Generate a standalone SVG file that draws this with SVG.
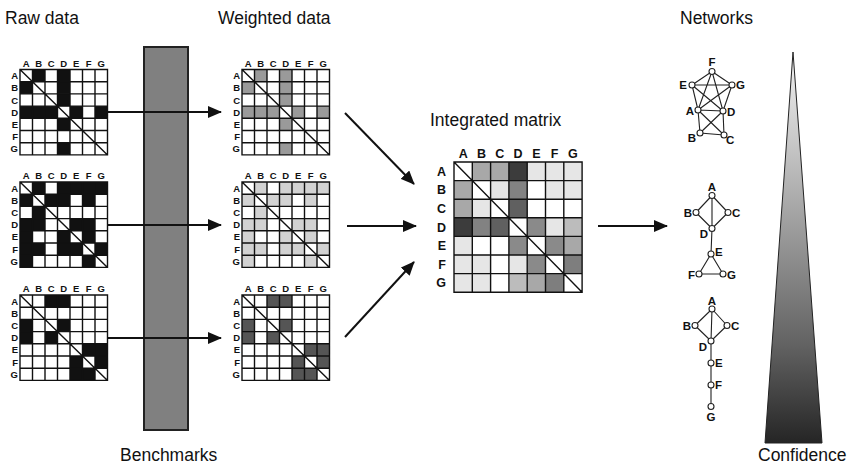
<svg xmlns="http://www.w3.org/2000/svg" xmlns:xlink="http://www.w3.org/1999/xlink" width="853" height="466" viewBox="0 0 853 466">
  <style>
    .title { font-family: "Liberation Sans", Arial, sans-serif; font-size: 17.5px; fill: #111; }
    .hdr { font-family: "Liberation Sans", Arial, sans-serif; font-size: 9.5px; font-weight: bold; fill: #111; }
    .hdr-big { font-family: "Liberation Sans", Arial, sans-serif; font-size: 12.5px; font-weight: bold; fill: #111; }
    .nlbl { font-family: "Liberation Sans", Arial, sans-serif; font-size: 11.5px; font-weight: bold; fill: #111; }
    .grid { fill: none; stroke: #111; stroke-width: 1.4; }
    .bg { fill: #fff; }
    .k { fill: #111; }
    .w1 { fill: #9a9a9a; }
    .w2 { fill: #d2d2d2; }
    .w3 { fill: #555; }
    .conn { stroke: #111; stroke-width: 2; fill: none; }
    .edge { stroke: #222; stroke-width: 1.1; fill: none; }
    .node { fill: #fff; stroke: #222; stroke-width: 1.1; }
  </style>
  <defs>
    <marker id="head" viewBox="0 0 14 12" refX="13" refY="6" markerWidth="14" markerHeight="12" markerUnits="userSpaceOnUse" orient="auto">
      <path d="M0,0 L14,6 L0,12 z" fill="#111"/>
    </marker>
    <linearGradient id="conf" x1="0" y1="0" x2="0" y2="1">
      <stop offset="0" stop-color="#f2f2f2"/>
      <stop offset="0.25" stop-color="#c4c4c4"/>
      <stop offset="0.5" stop-color="#939393"/>
      <stop offset="0.75" stop-color="#626262"/>
      <stop offset="1" stop-color="#252525"/>
    </linearGradient>
    <!-- 7x7 grid, small matrices: cell 12.5 x 12.2 -->
    <path id="grid7" class="grid" d="M0,0 H87.5 V85.4 H0 Z M12.5,0 V85.4 M25,0 V85.4 M37.5,0 V85.4 M50,0 V85.4 M62.5,0 V85.4 M75,0 V85.4 M0,12.2 H87.5 M0,24.4 H87.5 M0,36.6 H87.5 M0,48.8 H87.5 M0,61 H87.5 M0,73.2 H87.5 M0,0 L87.5,85.4"/>
    <g id="labels7">
      <text class="hdr" x="6.25" y="-3" text-anchor="middle">A</text>
      <text class="hdr" x="18.75" y="-3" text-anchor="middle">B</text>
      <text class="hdr" x="31.25" y="-3" text-anchor="middle">C</text>
      <text class="hdr" x="43.75" y="-3" text-anchor="middle">D</text>
      <text class="hdr" x="56.25" y="-3" text-anchor="middle">E</text>
      <text class="hdr" x="68.75" y="-3" text-anchor="middle">F</text>
      <text class="hdr" x="81.25" y="-3" text-anchor="middle">G</text>
      <text class="hdr" x="-2" y="9.6" text-anchor="end">A</text>
      <text class="hdr" x="-2" y="21.8" text-anchor="end">B</text>
      <text class="hdr" x="-2" y="34" text-anchor="end">C</text>
      <text class="hdr" x="-2" y="46.2" text-anchor="end">D</text>
      <text class="hdr" x="-2" y="58.4" text-anchor="end">E</text>
      <text class="hdr" x="-2" y="70.6" text-anchor="end">F</text>
      <text class="hdr" x="-2" y="82.8" text-anchor="end">G</text>
    </g>
    <!-- cell patterns (row, col) -> x = 12.5*col, y = 12.2*row -->
    <g id="pat1">
      <rect x="12.5" y="0" width="12.5" height="12.2"/><rect x="0" y="12.2" width="12.5" height="12.2"/>
      <rect x="37.5" y="0" width="12.5" height="12.2"/><rect x="0" y="36.6" width="12.5" height="12.2"/>
      <rect x="37.5" y="12.2" width="12.5" height="12.2"/><rect x="12.5" y="36.6" width="12.5" height="12.2"/>
      <rect x="37.5" y="24.4" width="12.5" height="12.2"/><rect x="25" y="36.6" width="12.5" height="12.2"/>
      <rect x="50" y="36.6" width="12.5" height="12.2"/><rect x="37.5" y="48.8" width="12.5" height="12.2"/>
      <rect x="75" y="36.6" width="12.5" height="12.2"/><rect x="37.5" y="73.2" width="12.5" height="12.2"/>
    </g>
    <g id="pat2">
      <rect x="12.5" y="0" width="12.5" height="12.2"/><rect x="0" y="12.2" width="12.5" height="12.2"/>
      <rect x="37.5" y="0" width="12.5" height="12.2"/><rect x="0" y="36.6" width="12.5" height="12.2"/>
      <rect x="50" y="0" width="12.5" height="12.2"/><rect x="0" y="48.8" width="12.5" height="12.2"/>
      <rect x="62.5" y="0" width="12.5" height="12.2"/><rect x="0" y="61" width="12.5" height="12.2"/>
      <rect x="75" y="0" width="12.5" height="12.2"/><rect x="0" y="73.2" width="12.5" height="12.2"/>
      <rect x="25" y="12.2" width="12.5" height="12.2"/><rect x="12.5" y="24.4" width="12.5" height="12.2"/>
      <rect x="37.5" y="12.2" width="12.5" height="12.2"/><rect x="12.5" y="36.6" width="12.5" height="12.2"/>
      <rect x="62.5" y="12.2" width="12.5" height="12.2"/><rect x="12.5" y="61" width="12.5" height="12.2"/>
      <rect x="50" y="36.6" width="12.5" height="12.2"/><rect x="37.5" y="48.8" width="12.5" height="12.2"/>
      <rect x="62.5" y="36.6" width="12.5" height="12.2"/><rect x="37.5" y="61" width="12.5" height="12.2"/>
      <rect x="62.5" y="48.8" width="12.5" height="12.2"/><rect x="50" y="61" width="12.5" height="12.2"/>
      <rect x="75" y="61" width="12.5" height="12.2"/><rect x="62.5" y="73.2" width="12.5" height="12.2"/>
    </g>
    <g id="pat3">
      <rect x="25" y="0" width="12.5" height="12.2"/><rect x="0" y="24.4" width="12.5" height="12.2"/>
      <rect x="37.5" y="0" width="12.5" height="12.2"/><rect x="0" y="36.6" width="12.5" height="12.2"/>
      <rect x="37.5" y="24.4" width="12.5" height="12.2"/><rect x="25" y="36.6" width="12.5" height="12.2"/>
      <rect x="62.5" y="48.8" width="12.5" height="12.2"/><rect x="50" y="61" width="12.5" height="12.2"/>
      <rect x="75" y="48.8" width="12.5" height="12.2"/><rect x="50" y="73.2" width="12.5" height="12.2"/>
      <rect x="75" y="61" width="12.5" height="12.2"/><rect x="62.5" y="73.2" width="12.5" height="12.2"/>
    </g>
  </defs>

  <rect width="853" height="466" fill="#fff"/>

  <!-- column titles -->
  <g id="titles">
    <text class="title" x="5" y="24">Raw data</text>
    <text class="title" x="218" y="24">Weighted data</text>
    <text class="title" x="430" y="126">Integrated matrix</text>
    <text class="title" x="680" y="24">Networks</text>
    <text class="title" x="120" y="461">Benchmarks</text>
    <text class="title" x="758" y="461">Confidence</text>
  </g>

  <!-- benchmark bar -->
  <g id="benchmarks">
    <rect x="144" y="47" width="44" height="383" fill="#808080" stroke="#222" stroke-width="2"/>
  </g>

  <!-- connectors (drawn over the benchmark bar) -->
  <g id="connectors">
    <line class="conn" x1="108" y1="112" x2="221" y2="112" marker-end="url(#head)"/>
    <line class="conn" x1="108" y1="225" x2="221" y2="225" marker-end="url(#head)"/>
    <line class="conn" x1="108" y1="338" x2="221" y2="338" marker-end="url(#head)"/>
    <line class="conn" x1="345" y1="113" x2="414" y2="184" marker-end="url(#head)"/>
    <line class="conn" x1="347" y1="226" x2="416" y2="226" marker-end="url(#head)"/>
    <line class="conn" x1="345" y1="337" x2="414" y2="262" marker-end="url(#head)"/>
    <line class="conn" x1="598" y1="226" x2="667" y2="226" marker-end="url(#head)"/>
  </g>

  <!-- raw data matrices -->
  <g id="raw-1" transform="translate(20,69.5)">
    <rect class="bg" width="87.5" height="85.4"/>
    <use xlink:href="#pat1" class="k"/>
    <use xlink:href="#grid7"/>
    <use xlink:href="#labels7"/>
  </g>
  <g id="raw-2" transform="translate(20,182)">
    <rect class="bg" width="87.5" height="85.4"/>
    <use xlink:href="#pat2" class="k"/>
    <use xlink:href="#grid7"/>
    <use xlink:href="#labels7"/>
  </g>
  <g id="raw-3" transform="translate(20,295)">
    <rect class="bg" width="87.5" height="85.4"/>
    <use xlink:href="#pat3" class="k"/>
    <use xlink:href="#grid7"/>
    <use xlink:href="#labels7"/>
  </g>

  <!-- weighted data matrices -->
  <g id="weighted-1" transform="translate(242,69.5)">
    <rect class="bg" width="87.5" height="85.4"/>
    <use xlink:href="#pat1" class="w1"/>
    <use xlink:href="#grid7"/>
    <use xlink:href="#labels7"/>
  </g>
  <g id="weighted-2" transform="translate(242,182)">
    <rect class="bg" width="87.5" height="85.4"/>
    <use xlink:href="#pat2" class="w2"/>
    <use xlink:href="#grid7"/>
    <use xlink:href="#labels7"/>
  </g>
  <g id="weighted-3" transform="translate(242,295)">
    <rect class="bg" width="87.5" height="85.4"/>
    <use xlink:href="#pat3" class="w3"/>
    <use xlink:href="#grid7"/>
    <use xlink:href="#labels7"/>
  </g>

  <!-- integrated matrix: cell 18.3 x 18.6 -->
  <g id="integrated" transform="translate(454,162)">
    <rect class="bg" width="128.1" height="130.2"/>
    <!-- row A -->
    <rect x="18.3" y="0" width="18.3" height="18.6" fill="#a8a8a8"/>
    <rect x="36.6" y="0" width="18.3" height="18.6" fill="#a8a8a8"/>
    <rect x="54.9" y="0" width="18.3" height="18.6" fill="#3c3c3c"/>
    <rect x="73.2" y="0" width="18.3" height="18.6" fill="#e6e6e6"/>
    <rect x="91.5" y="0" width="18.3" height="18.6" fill="#e6e6e6"/>
    <rect x="109.8" y="0" width="18.3" height="18.6" fill="#e6e6e6"/>
    <!-- row B -->
    <rect x="0" y="18.6" width="18.3" height="18.6" fill="#a8a8a8"/>
    <rect x="36.6" y="18.6" width="18.3" height="18.6" fill="#e6e6e6"/>
    <rect x="54.9" y="18.6" width="18.3" height="18.6" fill="#828282"/>
    <rect x="91.5" y="18.6" width="18.3" height="18.6" fill="#e6e6e6"/>
    <rect x="109.8" y="18.6" width="18.3" height="18.6" fill="#e6e6e6"/>
    <!-- row C -->
    <rect x="0" y="37.2" width="18.3" height="18.6" fill="#a8a8a8"/>
    <rect x="18.3" y="37.2" width="18.3" height="18.6" fill="#e6e6e6"/>
    <rect x="54.9" y="37.2" width="18.3" height="18.6" fill="#606060"/>
    <!-- row D -->
    <rect x="0" y="55.8" width="18.3" height="18.6" fill="#3c3c3c"/>
    <rect x="18.3" y="55.8" width="18.3" height="18.6" fill="#828282"/>
    <rect x="36.6" y="55.8" width="18.3" height="18.6" fill="#606060"/>
    <rect x="73.2" y="55.8" width="18.3" height="18.6" fill="#8a8a8a"/>
    <rect x="91.5" y="55.8" width="18.3" height="18.6" fill="#e6e6e6"/>
    <rect x="109.8" y="55.8" width="18.3" height="18.6" fill="#bcbcbc"/>
    <!-- row E -->
    <rect x="0" y="74.4" width="18.3" height="18.6" fill="#e6e6e6"/>
    <rect x="54.9" y="74.4" width="18.3" height="18.6" fill="#8a8a8a"/>
    <rect x="91.5" y="74.4" width="18.3" height="18.6" fill="#8a8a8a"/>
    <rect x="109.8" y="74.4" width="18.3" height="18.6" fill="#a8a8a8"/>
    <!-- row F -->
    <rect x="0" y="93" width="18.3" height="18.6" fill="#e6e6e6"/>
    <rect x="18.3" y="93" width="18.3" height="18.6" fill="#e6e6e6"/>
    <rect x="54.9" y="93" width="18.3" height="18.6" fill="#e6e6e6"/>
    <rect x="73.2" y="93" width="18.3" height="18.6" fill="#8a8a8a"/>
    <rect x="109.8" y="93" width="18.3" height="18.6" fill="#7e7e7e"/>
    <!-- row G -->
    <rect x="0" y="111.6" width="18.3" height="18.6" fill="#e6e6e6"/>
    <rect x="18.3" y="111.6" width="18.3" height="18.6" fill="#e6e6e6"/>
    <rect x="54.9" y="111.6" width="18.3" height="18.6" fill="#bcbcbc"/>
    <rect x="73.2" y="111.6" width="18.3" height="18.6" fill="#a8a8a8"/>
    <rect x="91.5" y="111.6" width="18.3" height="18.6" fill="#7e7e7e"/>
    <path class="grid" stroke-width="1.6" d="M0,0 H128.1 V130.2 H0 Z M18.3,0 V130.2 M36.6,0 V130.2 M54.9,0 V130.2 M73.2,0 V130.2 M91.5,0 V130.2 M109.8,0 V130.2 M0,18.6 H128.1 M0,37.2 H128.1 M0,55.8 H128.1 M0,74.4 H128.1 M0,93 H128.1 M0,111.6 H128.1 M0,0 L128.1,130.2"/>
    <text class="hdr-big" x="9.15" y="-4" text-anchor="middle">A</text>
    <text class="hdr-big" x="27.45" y="-4" text-anchor="middle">B</text>
    <text class="hdr-big" x="45.75" y="-4" text-anchor="middle">C</text>
    <text class="hdr-big" x="64.05" y="-4" text-anchor="middle">D</text>
    <text class="hdr-big" x="82.35" y="-4" text-anchor="middle">E</text>
    <text class="hdr-big" x="100.65" y="-4" text-anchor="middle">F</text>
    <text class="hdr-big" x="118.95" y="-4" text-anchor="middle">G</text>
    <text class="hdr-big" x="-8" y="13.8" text-anchor="end">A</text>
    <text class="hdr-big" x="-8" y="32.4" text-anchor="end">B</text>
    <text class="hdr-big" x="-8" y="51" text-anchor="end">C</text>
    <text class="hdr-big" x="-8" y="69.6" text-anchor="end">D</text>
    <text class="hdr-big" x="-8" y="88.2" text-anchor="end">E</text>
    <text class="hdr-big" x="-8" y="106.8" text-anchor="end">F</text>
    <text class="hdr-big" x="-8" y="125.4" text-anchor="end">G</text>
  </g>

  <!-- networks -->
  <g id="network-1">
    <path class="edge" d="M712,71.5 L692,85 M712,71.5 L732,85 M692,85 L732,85 M712,71.5 L698,110 M712,71.5 L723,111 M692,85 L723,111 M732,85 L698,110 M692,85 L698,110 M732,85 L723,111 M698,110 L723,111 M698,110 L700,133 M723,111 L724,135 M700,133 L724,135 M698,110 L724,135 M723,111 L700,133"/>
    <circle class="node" cx="712" cy="71.5" r="3"/>
    <circle class="node" cx="692" cy="85" r="3"/>
    <circle class="node" cx="732" cy="85" r="3"/>
    <circle class="node" cx="698" cy="110" r="3"/>
    <circle class="node" cx="723" cy="111" r="3"/>
    <circle class="node" cx="700" cy="133" r="3"/>
    <circle class="node" cx="724" cy="135" r="3"/>
    <text class="nlbl" x="712" y="66" text-anchor="middle">F</text>
    <text class="nlbl" x="687" y="89" text-anchor="end">E</text>
    <text class="nlbl" x="736" y="89">G</text>
    <text class="nlbl" x="694" y="115" text-anchor="end">A</text>
    <text class="nlbl" x="727" y="116">D</text>
    <text class="nlbl" x="696" y="142" text-anchor="end">B</text>
    <text class="nlbl" x="726" y="144">C</text>
  </g>
  <g id="network-2">
    <path class="edge" d="M712,195.5 L696,212.5 M712,195.5 L728,212.5 M696,212.5 L712,228.5 M728,212.5 L712,228.5 M712,195.5 L712,228.5 M712,228.5 L711,254 M711,254 L699,274 M711,254 L723,274 M699,274 L723,274"/>
    <circle class="node" cx="712" cy="195.5" r="3"/>
    <circle class="node" cx="696" cy="212.5" r="3"/>
    <circle class="node" cx="728" cy="212.5" r="3"/>
    <circle class="node" cx="712" cy="228.5" r="3"/>
    <circle class="node" cx="711" cy="254" r="3"/>
    <circle class="node" cx="699" cy="274" r="3"/>
    <circle class="node" cx="723" cy="274" r="3"/>
    <text class="nlbl" x="712" y="191" text-anchor="middle">A</text>
    <text class="nlbl" x="692" y="217" text-anchor="end">B</text>
    <text class="nlbl" x="732" y="217">C</text>
    <text class="nlbl" x="708" y="238" text-anchor="end">D</text>
    <text class="nlbl" x="715" y="256">E</text>
    <text class="nlbl" x="695" y="279" text-anchor="end">F</text>
    <text class="nlbl" x="727" y="279">G</text>
  </g>
  <g id="network-3">
    <path class="edge" d="M712,309 L695,325.5 M712,309 L727,325.5 M695,325.5 L711,341 M727,325.5 L711,341 M712,309 L711,341 M711,341 L711,406.5"/>
    <circle class="node" cx="712" cy="309" r="3"/>
    <circle class="node" cx="695" cy="325.5" r="3"/>
    <circle class="node" cx="727" cy="325.5" r="3"/>
    <circle class="node" cx="711" cy="341" r="3"/>
    <circle class="node" cx="711" cy="363" r="3"/>
    <circle class="node" cx="711" cy="385" r="3"/>
    <circle class="node" cx="711" cy="406.5" r="3"/>
    <text class="nlbl" x="712" y="304.5" text-anchor="middle">A</text>
    <text class="nlbl" x="691" y="330" text-anchor="end">B</text>
    <text class="nlbl" x="731" y="330">C</text>
    <text class="nlbl" x="707" y="351" text-anchor="end">D</text>
    <text class="nlbl" x="715" y="367">E</text>
    <text class="nlbl" x="715" y="389">F</text>
    <text class="nlbl" x="711" y="421" text-anchor="middle">G</text>
  </g>

  <!-- confidence wedge -->
  <g id="confidence">
    <path d="M793,52 L822,443 L765,443 Z" fill="url(#conf)" stroke="#222" stroke-width="1"/>
  </g>
</svg>
